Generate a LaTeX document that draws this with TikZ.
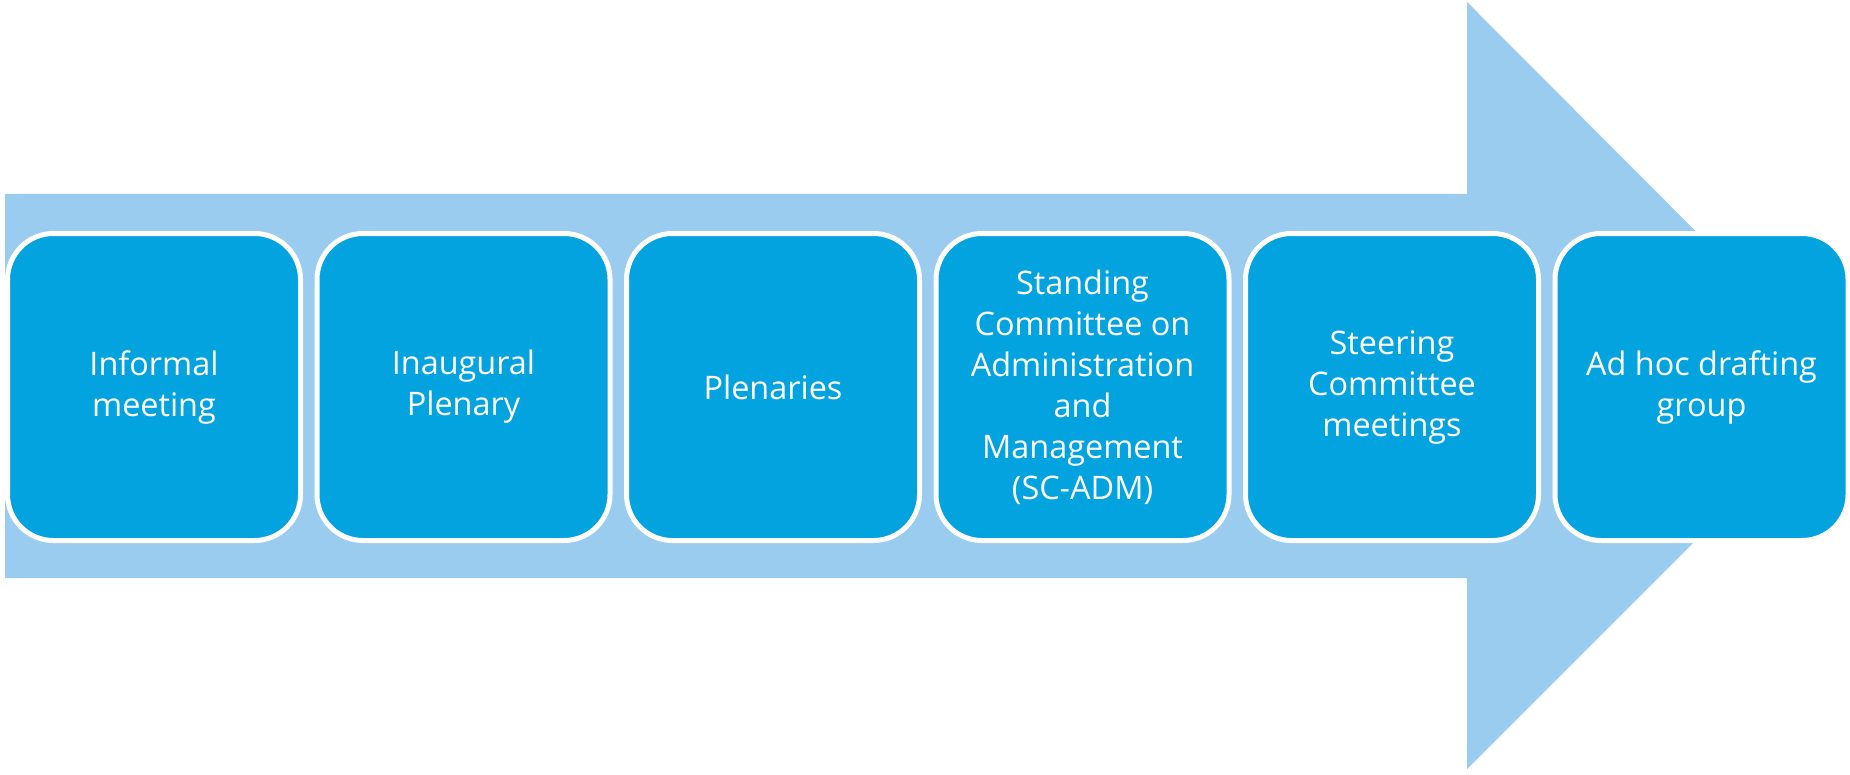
\documentclass[tikz,border=0pt]{standalone}
\usepackage{fontspec}
\setmainfont{Open Sans}
\usepackage{tikz}
\definecolor{arrowblue}{RGB}{153,204,238}
\definecolor{boxblue}{RGB}{3,163,224}
\tikzset{
	stage/.style={rectangle,rounded corners=23pt,fill=boxblue,draw=white,line width=2.5pt,
		minimum width=146.5pt,minimum height=153.5pt,inner sep=0pt,align=center,text=white,
		font=\fontsize{16.2}{20.5}\selectfont},
	bigarrow/.style={fill=arrowblue}
}
\begin{document}
\begin{tikzpicture}[x=0.5pt,y=-0.5pt]
						\useasboundingbox (0,0) rectangle (1850,775);
						\fill [bigarrow] (5,194) -- (1467,194) -- (1467,2) -- (1850,386) -- (1467,769) -- (1467,578) -- (5,578) -- cycle;

						\node [stage] (informal) at (154,387) {Informal\\meeting};
						\node [stage] (inaugural) at (463.5,387) {Inaugural\\Plenary};
						\node [stage] (plenaries) at (773,387) {Plenaries};
						\node [stage] (scadm) at (1082.5,387) {Standing\\Committee on\\Administration\\and\\Management\\(SC-ADM)};
						\node [stage] (steering) at (1392,387) {Steering\\Committee\\meetings};
						\node [stage] (adhoc) at (1701.5,387) {Ad hoc drafting\\group};
					\end{tikzpicture}
\end{document}
